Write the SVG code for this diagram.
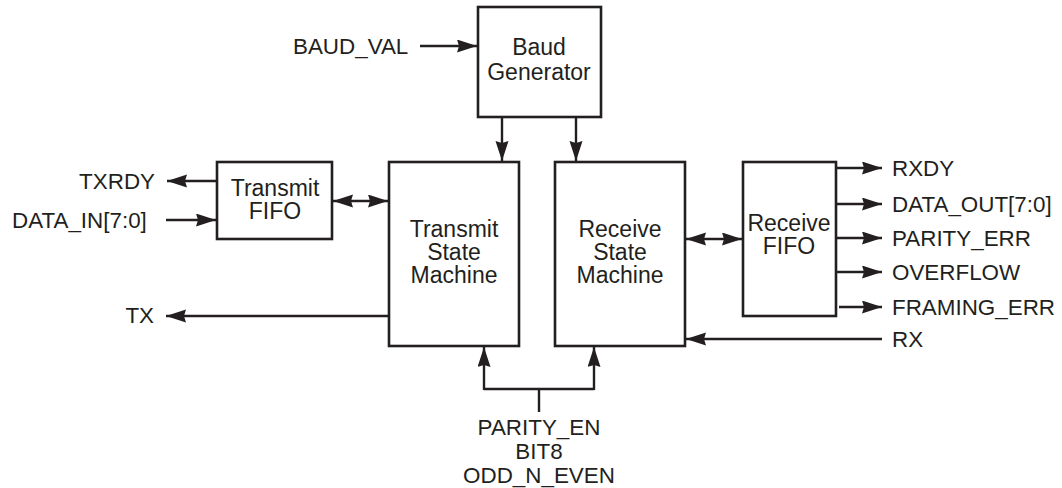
<svg xmlns="http://www.w3.org/2000/svg" width="1062" height="488" viewBox="0 0 1062 488">
<style>
.box{fill:#fff;stroke:#231f20;stroke-width:2.6}
.ln{fill:none;stroke:#231f20;stroke-width:2.4}
.a{marker-end:url(#ah)}
.d{marker-end:url(#ah);marker-start:url(#ah)}
text{font-family:"Liberation Sans",Arial,sans-serif;font-size:22.4px;fill:#231f20}
text.b{font-size:23px}
.c{text-anchor:middle}
.e{text-anchor:end}
</style>
<defs>
<marker id="ah" markerUnits="userSpaceOnUse" markerWidth="22" markerHeight="14" refX="20" refY="6.5" orient="auto-start-reverse">
<path d="M0,0 L20,6.5 L0,13 L2,6.5 z" fill="#231f20"/>
</marker>
</defs>
<rect width="1062" height="488" fill="#fff"/>
<g id="connectors">
<line class="ln a" x1="420" y1="46" x2="477" y2="46"/>
<line class="ln a" x1="502" y1="117" x2="502" y2="161"/>
<line class="ln a" x1="576" y1="117" x2="576" y2="161"/>
<line class="ln a" x1="217" y1="181" x2="167" y2="181"/>
<line class="ln a" x1="166" y1="220" x2="216" y2="220"/>
<line class="ln d" x1="333" y1="201" x2="388" y2="201"/>
<line class="ln a" x1="389" y1="316" x2="166" y2="316"/>
<line class="ln d" x1="686" y1="239" x2="742" y2="239"/>
<line class="ln a" x1="836" y1="168" x2="882" y2="168"/>
<line class="ln a" x1="836" y1="204" x2="882" y2="204"/>
<line class="ln a" x1="836" y1="238" x2="882" y2="238"/>
<line class="ln a" x1="836" y1="272" x2="882" y2="272"/>
<line class="ln a" x1="839" y1="307" x2="882" y2="307"/>
<line class="ln a" x1="882" y1="339" x2="686" y2="339"/>
<path class="ln" d="M484,389 L594,389 M539,389 L539,412"/>
<line class="ln a" x1="484" y1="390" x2="484" y2="347"/>
<line class="ln a" x1="594" y1="390" x2="594" y2="347"/>
</g>
<g id="baud">
<rect class="box" x="478" y="7" width="123" height="110"/>
<text class="c b" x="539" y="55">Baud<tspan x="539" dy="25">Generator</tspan></text>
</g>
<g id="txfifo">
<rect class="box" x="217" y="162" width="115" height="77"/>
<text class="c b" x="275" y="196">Transmit<tspan x="275" dy="23">FIFO</tspan></text>
</g>
<g id="txsm">
<rect class="box" x="389" y="162" width="130" height="184"/>
<text class="c b" x="454" y="237">Transmit<tspan x="454" dy="23">State</tspan><tspan x="454" dy="23">Machine</tspan></text>
</g>
<g id="rxsm">
<rect class="box" x="555" y="162" width="130" height="184"/>
<text class="c b" x="620" y="237">Receive<tspan x="620" dy="23">State</tspan><tspan x="620" dy="23">Machine</tspan></text>
</g>
<g id="rxfifo">
<rect class="box" x="743" y="162" width="93" height="154"/>
<text class="c b" x="789" y="231">Receive<tspan x="789" dy="23">FIFO</tspan></text>
</g>
<g id="labels">
<text x="293" y="54">BAUD_VAL</text>
<text class="e" x="155" y="189">TXRDY</text>
<text x="12" y="228">DATA_IN[7:0]</text>
<text class="e" x="154" y="323">TX</text>
<text x="892" y="176">RXDY</text>
<text x="892" y="212">DATA_OUT[7:0]</text>
<text x="892" y="246">PARITY_ERR</text>
<text x="892" y="280">OVERFLOW</text>
<text x="892" y="315">FRAMING_ERR</text>
<text x="892" y="347">RX</text>
<text class="c" x="539" y="435">PARITY_EN<tspan x="539" dy="24">BIT8</tspan><tspan x="539" dy="24">ODD_N_EVEN</tspan></text>
</g>
</svg>
